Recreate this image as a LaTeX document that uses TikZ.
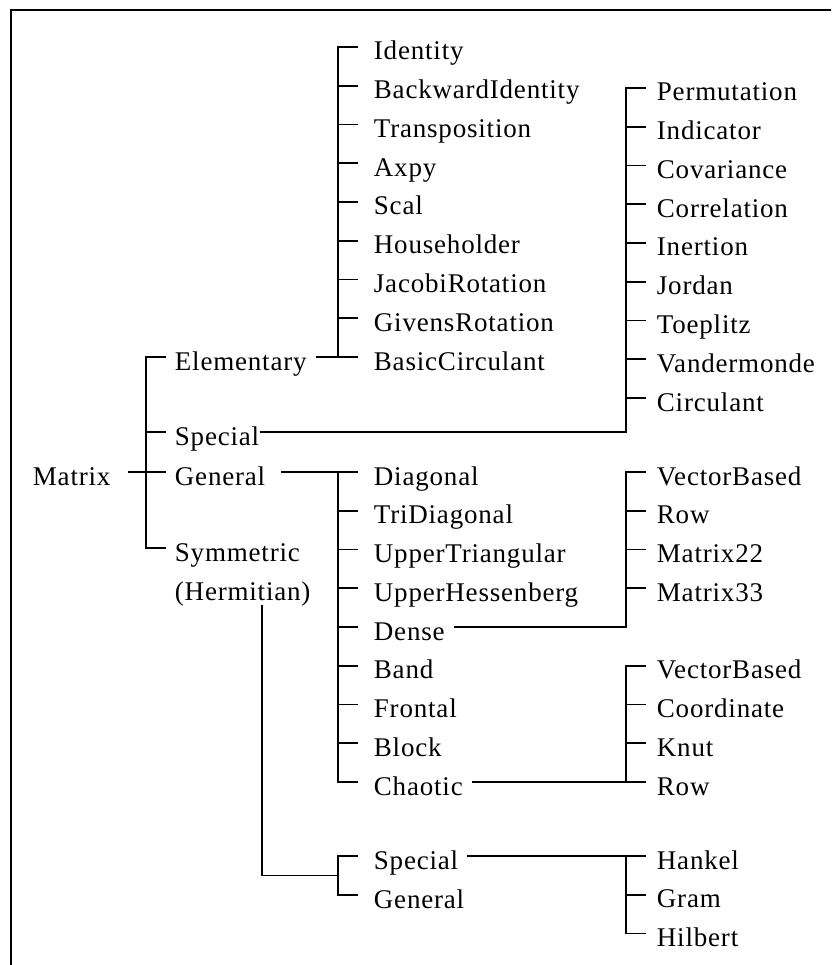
\documentclass[tikz,border=0pt]{standalone}
\usepackage{fontspec}
\setmainfont{Liberation Serif}[LetterSpace=3]
\begin{document}
\begin{tikzpicture}[x=1pt,y=-1pt,line width=1.8pt,
  txt/.style={anchor=west,inner sep=0pt,text height=26pt,text depth=0pt,font=\fontsize{27}{32}\selectfont}]
\useasboundingbox (0,0) rectangle (831,965);
\begin{scope}
\clip (0,0) rectangle (831,965);
\draw[line width=2.2pt] (11,10) rectangle (850,990);
\end{scope}
% level 1 and 2
\node[txt] (matrix) at (32,472) {Matrix};
\node[txt] (elem) at (174,357) {Elementary};
\node[txt] (spec) at (174,432) {Special};
\node[txt] (gen) at (174,472) {General};
\node[txt] (sym) at (174,548) {Symmetric};
\node[txt] (herm) at (174,587) {(Hermitian)};
% elementary list
\foreach \t [count=\i] in {Identity,BackwardIdentity,Transposition,Axpy,Scal,Householder,JacobiRotation,GivensRotation,BasicCirculant}
  \node[txt] (e\i) at (373,{47+(\i-1)*38.75}) {\t};
% special list
\foreach \t [count=\i] in {Permutation,Indicator,Covariance,Correlation,Inertion,Jordan,Toeplitz,Vandermonde,Circulant}
  \node[txt] (s\i) at (656,{88+(\i-1)*38.75}) {\t};
% general list
\foreach \t [count=\i] in {Diagonal,TriDiagonal,UpperTriangular,UpperHessenberg,Dense,Band,Frontal,Block,Chaotic}
  \node[txt] (g\i) at (373,{472+(\i-1)*38.75}) {\t};
% dense list
\foreach \t [count=\i] in {VectorBased,Row,Matrix22,Matrix33}
  \node[txt] (d\i) at (656,{472+(\i-1)*38.75}) {\t};
% chaotic list
\foreach \t [count=\i] in {VectorBased,Coordinate,Knut,Row}
  \node[txt] (c\i) at (656,{665.75+(\i-1)*38.75}) {\t};
% symmetric
\node[txt] (hs) at (373,856) {Special};
\node[txt] (hg) at (373,895) {General};
\foreach \t [count=\i] in {Hankel,Gram,Hilbert}
  \node[txt] (h\i) at (656,{856+(\i-1)*38.75}) {\t};
\coordinate (symtop) at (262,605);
\coordinate (symj) at (338,875.5);

% connectors
\draw ([xshift=17pt]matrix.east) -- ([xshift=-8pt]gen.west);
\draw ([xshift=-8pt]elem.west) -- ++(-20,0) |- ([xshift=-8pt]sym.west);
\draw ([xshift=-8pt]spec.west) -- ++(-20,0);

\draw ([xshift=-15pt]e1.west) -- ++(-20,0) |- ([xshift=-15pt]e9.west);
\foreach \i in {2,...,8} \draw ([xshift=-15pt]e\i.west) -- ++(-20,0);
\draw ([xshift=8pt]elem.east) -- ([xshift=-15pt]e9.west);

\draw (spec.east) -| ([xshift=-30pt]s1.west) -- ([xshift=-10pt]s1.west);
\foreach \i in {2,...,9} \draw ([xshift=-10pt]s\i.west) -- ++(-20,0);

\draw ([xshift=15pt]gen.east) -| ([xshift=-35pt]g1.west) -- ([xshift=-15pt]g1.west);
\draw ([xshift=-35pt]g1.west) |- ([xshift=-15pt]g9.west);
\foreach \i in {2,...,8} \draw ([xshift=-15pt]g\i.west) -- ++(-20,0);

\draw ([xshift=8pt]g5.east) -| ([xshift=-30pt]d1.west) -- ([xshift=-10pt]d1.west);
\foreach \i in {2,...,4} \draw ([xshift=-10pt]d\i.west) -- ++(-20,0);

\draw ([xshift=8pt]g9.east) -- ([xshift=-10pt]c4.west);
\draw ([xshift=-10pt]c1.west) -- ++(-20,0) |- ([xshift=-10pt]c4.west);
\foreach \i in {2,3} \draw ([xshift=-10pt]c\i.west) -- ++(-20,0);

\draw (symtop) |- (symj);
\draw ([xshift=-15pt]hs.west) -- ++(-20,0) |- ([xshift=-15pt]hg.west);
\draw ([xshift=8pt]hs.east) -- ([xshift=-10pt]h1.west);
\draw ([xshift=-10pt]h1.west) ++(-20,0) |- ([xshift=-10pt]h3.west);
\draw ([xshift=-10pt]h2.west) -- ++(-20,0);
\end{tikzpicture}
\end{document}
